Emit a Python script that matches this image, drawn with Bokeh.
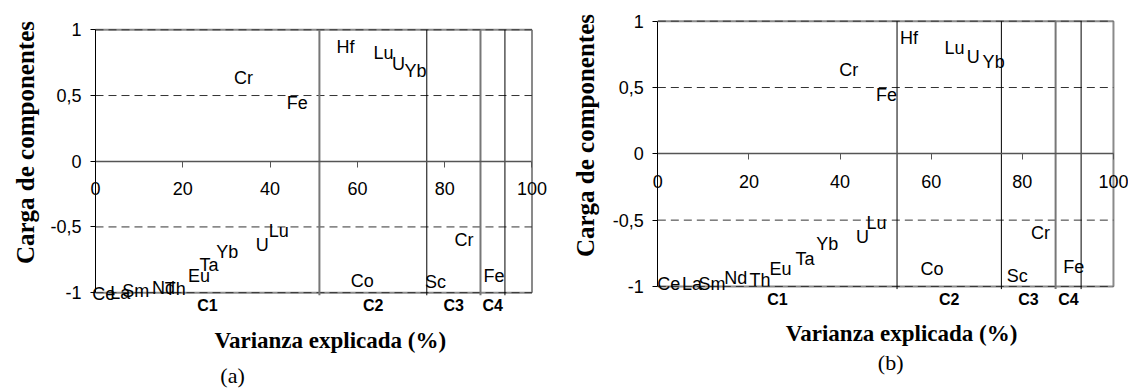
from math import pi
from bokeh.plotting import figure
from bokeh.layouts import row
from bokeh.models import Range1d, LinearAxis, FixedTicker, Label
from bokeh.core.properties import value
from bokeh.embed import file_html
from bokeh.resources import INLINE

# ---------------- data ----------------
x_ticks = [0, 20, 40, 60, 80, 100]
y_ticks = [-1, -0.5, 0, 0.5, 1]
y_tick_labels = ["-1", "-0,5", "0", "0,5", "1"]
components = ["C1", "C2", "C3", "C4"]

# panel (a)
elements_a = ["Cr", "Fe", "Hf", "Lu", "U", "Yb", "Lu", "U", "Yb", "Ta", "Eu",
              "Th", "Nd", "Sm", "La", "Ce", "Co", "Cr", "Sc", "Fe"]
variance_a = [33.9, 46.2, 57.3, 66.0, 69.4, 73.3, 42.0, 38.2, 30.2, 26.0, 23.7,
              18.3, 15.6, 9.2, 5.7, 1.9, 61.1, 84.4, 77.9, 91.3]
loading_a = [0.63, 0.44, 0.87, 0.82, 0.74, 0.69, -0.53, -0.64, -0.69, -0.79, -0.87,
             -0.97, -0.965, -0.985, -1.0, -1.01, -0.91, -0.60, -0.92, -0.87]
cum_variance_a = [51.3, 75.9, 88.2, 93.8]

# panel (b)
elements_b = ["Cr", "Fe", "Hf", "Lu", "U", "Yb", "Lu", "U", "Yb", "Ta", "Eu",
              "Th", "Nd", "Sm", "La", "Ce", "Co", "Cr", "Sc", "Fe"]
variance_b = [41.9, 50.2, 55.1, 65.1, 69.2, 73.7, 48.0, 44.9, 37.2, 32.3, 26.9,
              22.4, 17.1, 11.9, 7.5, 2.4, 60.2, 84.0, 78.9, 91.3]
loading_b = [0.63, 0.44, 0.875, 0.80, 0.73, 0.69, -0.52, -0.63, -0.68, -0.79, -0.87,
             -0.95, -0.94, -0.98, -0.98, -0.985, -0.87, -0.60, -0.92, -0.855]
cum_variance_b = [52.5, 75.4, 87.3, 92.9]

SANS = "Liberation Sans"
SERIF = "Liberation Serif"


def make_panel(width, xr, yr, elems, xs, ys, cum, line_colors, line_widths,
               xt_pos, yt_pos, tag, tag_pos):
    p = figure(width=width, height=389, x_range=Range1d(*xr), y_range=Range1d(*yr),
               x_axis_location=None, y_axis_location=None, toolbar_location=None,
               output_backend="svg", min_border=0)
    p.outline_line_color = None
    p.background_fill_color = "white"
    p.border_fill_color = "white"
    p.grid.visible = False

    # frame (top, bottom, right)
    p.segment(x0=[0, 0, 100], y0=[1, -1, -1], x1=[100, 100, 100], y1=[1, -1, 1],
              line_color="#8a8a8a", line_width=2)
    # dashed grid lines
    p.segment(x0=[0] * 4, y0=[1, 0.5, -0.5, -1], x1=[100] * 4, y1=[1, 0.5, -0.5, -1],
              line_color="#333333", line_width=1, line_dash="8 5")
    # cumulative-variance boundaries
    p.segment(x0=cum, y0=[-1.02] * len(cum), x1=cum, y1=[1] * len(cum),
              line_color=line_colors, line_width=line_widths)

    # axes crossing at the origin
    xax = LinearAxis(fixed_location=0, bounds=(0, 100), ticker=FixedTicker(ticks=x_ticks))
    xax.major_tick_out = 6
    xax.major_tick_in = 0
    xax.minor_tick_out = 0
    xax.minor_tick_in = 0
    xax.major_label_standoff = 15
    xax.axis_line_color = "#555555"
    xax.axis_line_width = 1.5
    xax.major_tick_line_color = "#555555"
    xax.major_label_text_font = SANS
    xax.major_label_text_font_size = "18px"
    xax.major_label_text_color = "black"
    p.add_layout(xax, "below")

    yax = LinearAxis(fixed_location=0, bounds=(-1, 1), ticker=FixedTicker(ticks=y_ticks))
    yax.major_label_overrides = {t: s for t, s in zip(y_ticks, y_tick_labels)}
    yax.major_tick_out = 5
    yax.major_tick_in = 0
    yax.minor_tick_out = 0
    yax.minor_tick_in = 0
    yax.major_label_standoff = 9
    yax.axis_line_color = "black"
    yax.axis_line_width = 1
    yax.major_tick_line_color = "black"
    yax.major_label_text_font = SANS
    yax.major_label_text_font_size = "18px"
    yax.major_label_text_color = "black"
    p.add_layout(yax, "left")

    # element labels
    p.text(x=xs, y=ys, text=elems, text_font=value(SANS), text_font_size="18px",
           text_align="center", text_baseline="middle", text_color="black")

    # component labels
    bounds = [0] + cum
    mids = [(bounds[i] + bounds[i + 1]) / 2 for i in range(len(cum))]
    p.text(x=mids, y=[-1.095] * len(cum), text=components, text_font=value(SANS),
           text_font_size="16px", text_font_style="bold", text_align="center",
           text_baseline="middle", text_color="black")

    p.add_layout(Label(x=xt_pos[0], y=xt_pos[1], text="Varianza explicada (%)",
                       text_font=SERIF, text_font_style="bold", text_font_size="23px",
                       text_color="black", text_align="center", text_baseline="middle"))
    p.add_layout(Label(x=yt_pos[0], y=yt_pos[1], text="Carga de componentes", angle=pi / 2,
                       text_font=SERIF, text_font_style="bold", text_font_size="25px",
                       text_color="black", text_align="center", text_baseline="middle"))
    p.add_layout(Label(x=tag_pos[0], y=tag_pos[1], text=tag, text_font=SERIF,
                       text_font_size="22px", text_color="black",
                       text_align="center", text_baseline="middle"))
    return p


pa = make_panel(560, (-21.76, 106.53), (-1.737, 1.223), elements_a, variance_a, loading_a,
                cum_variance_a, ["#777777", "black", "#777777", "black"], [2, 1, 2, 1],
                (53.8, -1.365), (-16.0, 0.142), "(a)", (31.4, -1.63))
pb = make_panel(568, (-21.36, 103.3), (-1.777, 1.156), elements_b, variance_b, loading_b,
                cum_variance_b, ["black", "black", "#777777", "black"], [1, 1, 2, 1],
                (53.5, -1.355), (-15.9, 0.138), "(b)", (51.1, -1.574))

layout = row(pa, pb)
open("out.html", "w").write(file_html(layout, INLINE))
